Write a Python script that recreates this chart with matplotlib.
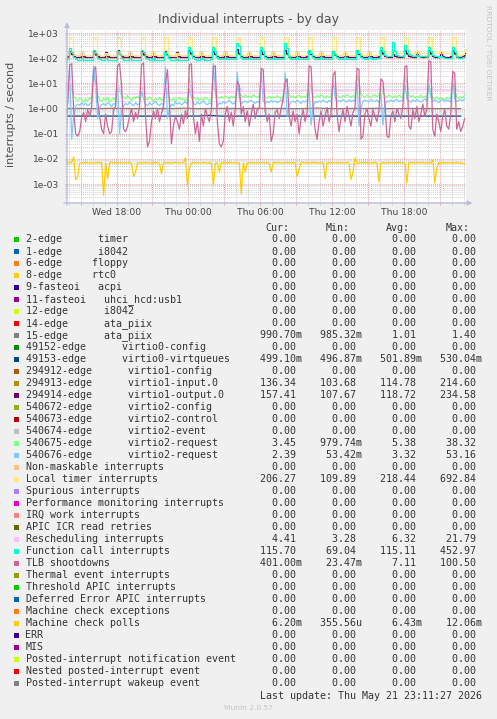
import pandas as pd
import matplotlib
matplotlib.use('Agg')
import matplotlib.pyplot as plt
import matplotlib.dates as mdates
from matplotlib.ticker import LogLocator, FuncFormatter, NullFormatter
from matplotlib.patches import Rectangle

W, H = 497, 719

# samples every 10 minutes, Wed 13:45 -> Thu 23:05
times = pd.date_range('2026-05-20 13:45', periods=201, freq='10min')
hourly = times[::6]
t_start = pd.Timestamp('2026-05-20 13:51:27')
t_end = pd.Timestamp('2026-05-21 23:11:27')

ata_15 = [1.00, 1.01, 0.99, 1.00, 1.02, 1.00, 0.99, 1.01, 1.00, 1.00, 1.03, 0.99, 1.00, 1.01, 1.00, 0.99, 1.02,
          1.00, 1.01, 0.99, 1.00, 1.04, 1.00, 0.99, 1.01, 1.00, 1.02, 0.99, 1.00, 1.01, 1.00, 0.99, 1.00, 0.99]
virtqueues = [0.50, 0.50, 0.501, 0.499, 0.50, 0.502, 0.50, 0.499, 0.50, 0.501, 0.50, 0.50, 0.53, 0.50, 0.499, 0.50,
              0.501, 0.50, 0.50, 0.502, 0.499, 0.50, 0.50, 0.501, 0.50, 0.499, 0.50, 0.502, 0.50, 0.50, 0.501, 0.50,
              0.499, 0.499]

v1_input = [110, 113,
    190, 142, 114, 110, 108, 109, 170, 115, 110, 108, 109, 111,
    185, 138, 113, 109, 107, 108, 165, 114, 109, 107, 108, 110,
    195, 143, 114, 110, 108, 109, 172, 116, 110, 108, 110, 111,
    188, 140, 113, 109, 107, 109, 168, 115, 109, 108, 109, 110,
    180, 135, 112, 109, 108, 108, 165, 114, 110, 108, 109, 111,
    200, 147, 115, 111, 109, 110, 172, 116, 111, 109, 110, 112,
    190, 142, 114, 110, 108, 109, 170, 115, 110, 109, 108, 111,
    214, 152, 116, 111, 109, 110, 166, 116, 111, 109, 110, 112,
    195, 144, 115, 111, 109, 110, 171, 116, 111, 109, 111, 112,
    205, 147, 116, 112, 110, 111, 173, 117, 112, 110, 111, 113,
    190, 142, 115, 111, 109, 110, 169, 116, 111, 110, 111, 112,
    185, 140, 114, 111, 109, 110, 168, 115, 111, 109, 110, 112,
    195, 144, 116, 112, 110, 111, 172, 117, 112, 110, 112, 113,
    200, 147, 117, 113, 111, 112, 180, 118, 113, 111, 112, 114,
    205, 150, 118, 113, 111, 112, 175, 118, 113, 111, 113, 114,
    210, 152, 117, 112, 110, 111, 170, 117, 112, 110, 111, 113,
    200, 147, 116, 112, 110, 114, 136]

v1_output = [114, 118,
    200, 150, 118, 114, 112, 113, 180, 120, 114, 112, 113, 115,
    195, 145, 117, 113, 111, 112, 175, 119, 113, 111, 112, 114,
    205, 150, 118, 114, 112, 113, 182, 121, 114, 112, 114, 115,
    198, 148, 117, 113, 111, 113, 178, 120, 113, 112, 113, 114,
    190, 142, 116, 113, 112, 112, 175, 119, 114, 112, 113, 115,
    210, 155, 119, 115, 113, 114, 182, 121, 115, 113, 114, 116,
    200, 150, 118, 114, 112, 113, 180, 120, 114, 113, 112, 115,
    230, 160, 120, 115, 113, 114, 176, 121, 115, 113, 114, 116,
    205, 152, 119, 115, 113, 114, 181, 121, 115, 113, 115, 116,
    215, 155, 120, 116, 114, 115, 183, 122, 116, 114, 115, 117,
    200, 150, 119, 115, 113, 114, 179, 121, 115, 114, 115, 116,
    195, 148, 118, 115, 113, 114, 178, 120, 115, 113, 114, 116,
    205, 152, 120, 116, 114, 115, 182, 122, 116, 114, 116, 117,
    210, 155, 121, 117, 115, 116, 190, 123, 117, 115, 116, 118,
    215, 158, 122, 117, 115, 116, 185, 123, 117, 115, 117, 118,
    220, 160, 121, 116, 114, 115, 180, 122, 116, 114, 115, 117,
    210, 155, 120, 116, 114, 118, 157]

v2_req_a = [2.2, 2.5,
    12, 6, 3.0, 2.5, 2.0, 2.6, 2.2, 1.8, 2.4, 2.0, 2.8, 2.3,
    20, 8, 3.5, 2.2, 1.9, 2.5, 2.1, 2.8, 1.8, 2.2, 2.6, 2.0,
    14, 5, 3.2, 2.8, 2.4, 3.3, 2.6, 2.1, 2.9, 2.5, 3.1, 2.4,
    4.5, 3.8, 2.6, 2.2, 2.9, 2.4, 1.9, 2.5, 2.2, 2.7, 2.1, 2.4,
    9, 4, 2.4, 2.1, 2.6, 1.9, 2.3, 2.8, 2.2, 2.5, 2.0, 2.6,
    15, 6, 2.8, 2.3, 2.6, 2.1, 2.5, 2.2, 2.8, 2.4, 2.0, 2.6,
    8, 5, 2.9, 2.5, 3.0, 2.6, 3.2, 2.7, 2.4, 3.1, 2.6, 3.0,
    6, 4, 3.3, 2.8, 3.4, 2.9, 3.1, 2.7, 3.5, 3.0, 2.8, 3.2,
    9, 5, 3.0, 2.6, 3.1, 2.5, 2.9, 2.6, 3.3, 2.8, 2.5, 3.0,
    20, 9, 3.5, 2.8, 3.2, 2.6, 3.0, 3.4, 2.7, 3.1, 2.9, 3.3,
    11, 6, 3.1, 2.7, 3.3, 2.9, 3.5, 3.0, 2.6, 3.2, 2.8, 3.0,
    10, 7, 3.4, 3.0, 2.7, 3.3, 2.9, 3.6, 3.1, 2.8, 3.2, 3.0,
    20, 12, 3.6, 3.1, 2.8, 3.4, 3.0, 2.7, 3.3, 3.5, 2.9, 3.2,
    6, 4.5, 3.2, 2.8, 3.5, 3.0, 2.7, 3.2, 2.9, 3.4, 3.0, 2.6,
    22, 10, 3.5, 2.9, 3.3, 2.6, 3.0, 2.8, 3.4, 2.7, 3.1, 2.9,
    9, 5, 2.6, 2.4, 2.9, 2.2, 2.7, 2.5, 2.3, 2.8, 2.4, 2.6,
    15, 6, 2.8, 2.5, 3.0, 2.6, 3.45]

v2_req_b = [1.3, 1.6,
    40, 0.06, 0.5, 1.2, 1.5, 1.3, 1.7, 1.4, 1.6, 1.3, 1.5, 1.8,
    50, 8, 0.4, 1.1, 1.4, 1.6, 1.3, 1.7, 1.5, 1.2, 1.6, 1.4,
    11, 0.1, 0.8, 1.3, 1.6, 1.4, 1.8, 1.5, 1.3, 1.7, 1.4, 1.6,
    5, 2.5, 1.5, 1.3, 1.7, 1.4, 1.6, 1.9, 1.5, 1.3, 1.6, 1.4,
    45, 0.4, 1.0, 1.5, 1.3, 1.8, 1.5, 1.7, 1.4, 1.6, 1.9, 1.5,
    6, 3, 1.6, 1.4, 1.8, 1.5, 1.7, 2.0, 1.6, 1.4, 1.7, 1.5,
    60, 5, 1.2, 1.7, 1.5, 1.9, 1.6, 1.8, 2.1, 1.7, 1.5, 1.8,
    28, 3, 1.5, 1.8, 2.0, 1.7, 1.9, 2.2, 1.8, 1.6, 1.9, 1.7,
    30, 2, 1.6, 1.9, 1.7, 2.1, 1.8, 2.0, 1.7, 1.9, 2.2, 1.8,
    26, 0.5, 1.4, 1.8, 2.0, 1.7, 2.1, 1.9, 1.6, 2.0, 1.8, 2.1,
    6, 0.22, 1.2, 1.9, 1.7, 2.0, 1.8, 2.2, 1.9, 1.7, 2.1, 1.8,
    12, 3, 1.8, 2.1, 1.9, 2.3, 2.0, 1.8, 2.2, 1.9, 2.1, 2.0,
    21, 0.2, 1.0, 1.9, 2.2, 2.0, 1.8, 2.3, 2.0, 1.9, 2.2, 1.7,
    4, 0.22, 1.5, 2.0, 1.8, 2.2, 1.9, 2.1, 2.3, 1.9, 2.0, 2.2,
    10, 2.5, 2.0, 1.8, 2.2, 1.9, 2.3, 2.0, 1.8, 2.1, 2.4, 2.0,
    8, 3, 1.9, 2.2, 2.0, 1.7, 2.1, 2.3, 1.9, 2.2, 2.0, 1.8,
    15, 2.5, 1.9, 2.1, 2.3, 2.0, 2.39]

local_timer = [128, 140,
    650, 690, 150, 132, 128, 131, 172, 134, 129, 127, 130, 128,
    640, 680, 148, 131, 127, 130, 168, 133, 128, 126, 129, 131,
    660, 690, 152, 133, 129, 128, 175, 132, 130, 128, 127, 130,
    650, 680, 149, 130, 128, 131, 170, 135, 129, 127, 130, 129,
    630, 670, 147, 132, 129, 127, 168, 131, 128, 130, 128, 131,
    660, 690, 153, 131, 128, 130, 173, 134, 130, 127, 129, 128,
    640, 685, 150, 133, 130, 128, 171, 132, 129, 131, 128, 130,
    600, 650, 148, 132, 128, 130, 169, 135, 131, 128, 130, 129,
    650, 690, 151, 134, 130, 129, 172, 133, 130, 128, 131, 130,
    660, 680, 150, 133, 131, 129, 170, 136, 132, 130, 129, 131,
    640, 690, 152, 135, 132, 130, 174, 134, 131, 133, 130, 132,
    650, 670, 149, 134, 131, 133, 171, 136, 132, 130, 133, 131,
    660, 690, 155, 136, 133, 131, 175, 137, 134, 132, 135, 140,
    640, 680, 175, 160, 158, 162, 190, 163, 160, 158, 161, 159,
    650, 690, 178, 162, 160, 158, 192, 164, 161, 159, 162, 160,
    660, 692, 176, 161, 159, 163, 190, 162, 158, 160, 157, 150,
    640, 680, 160, 145, 140, 150, 206]

rescheduling = [3.7, 3.9,
    14, 8, 4.2, 3.8, 3.7, 3.6, 3.8, 3.7, 3.6, 3.7, 3.8, 3.7,
    13, 7, 4.0, 3.7, 3.6, 3.7, 3.8, 3.6, 3.7, 3.6, 3.8, 3.7,
    11, 6, 4.1, 3.8, 3.7, 3.8, 3.9, 3.7, 3.8, 3.7, 3.9, 3.8,
    8, 5, 4.0, 3.9, 3.8, 3.9, 4.0, 3.8, 3.9, 4.0, 3.9, 3.8,
    10, 6, 4.4, 4.1, 4.0, 4.2, 4.1, 4.3, 4.2, 4.1, 4.3, 4.2,
    12, 7, 4.6, 4.3, 4.2, 4.4, 4.3, 4.2, 4.4, 4.3, 4.5, 4.4,
    9, 6, 4.7, 4.5, 4.4, 4.6, 4.5, 4.7, 4.6, 4.5, 4.7, 4.6,
    12, 8, 5.0, 4.8, 4.7, 4.9, 4.8, 4.7, 4.9, 4.8, 5.0, 4.9,
    10, 6, 5.1, 4.9, 4.8, 5.0, 4.9, 5.1, 5.0, 4.9, 5.1, 5.0,
    13, 7, 5.3, 5.1, 5.0, 5.2, 5.1, 5.0, 5.2, 5.3, 5.1, 5.2,
    11, 7, 5.4, 5.2, 5.1, 5.3, 5.2, 5.4, 5.3, 5.2, 5.4, 5.3,
    12, 8, 5.5, 5.3, 5.2, 5.4, 5.3, 5.2, 5.4, 5.5, 5.3, 5.4,
    14, 8, 5.6, 5.4, 5.3, 5.5, 5.4, 5.6, 5.5, 5.4, 5.6, 5.5,
    9, 6, 5.7, 5.5, 5.4, 5.6, 5.5, 5.4, 5.6, 5.7, 5.5, 5.6,
    16, 9, 5.8, 5.6, 5.5, 5.7, 5.6, 5.5, 5.7, 5.6, 5.8, 5.7,
    21, 10, 5.6, 5.4, 5.3, 5.5, 5.4, 5.3, 5.5, 5.4, 5.2, 5.3,
    14, 8, 5.2, 5.0, 4.8, 4.6, 4.41]

function_call = [86, 92,
    250, 180, 108, 90, 86, 84, 100, 88, 85, 87, 84, 86,
    210, 160, 105, 89, 85, 87, 98, 86, 84, 86, 85, 87,
    200, 150, 104, 88, 86, 85, 99, 87, 85, 84, 86, 88,
    210, 170, 106, 90, 87, 85, 101, 88, 86, 85, 87, 86,
    180, 140, 103, 88, 86, 87, 97, 86, 85, 87, 86, 88,
    270, 190, 110, 92, 88, 86, 102, 89, 87, 88, 86, 89,
    270, 200, 112, 93, 90, 89, 104, 92, 90, 89, 91, 90,
    400, 300, 115, 95, 91, 90, 105, 93, 91, 92, 90, 92,
    270, 200, 112, 95, 92, 91, 106, 94, 92, 91, 93, 92,
    400, 250, 118, 96, 93, 92, 107, 95, 93, 94, 92, 94,
    210, 160, 110, 96, 94, 93, 108, 96, 94, 93, 95, 94,
    190, 150, 108, 97, 95, 94, 109, 97, 95, 96, 94, 96,
    210, 160, 112, 98, 96, 95, 110, 98, 97, 96, 98, 100,
    280, 200, 140, 125, 122, 124, 450, 200, 128, 124, 126, 125,
    320, 220, 145, 128, 124, 126, 140, 127, 125, 124, 127, 126,
    270, 190, 138, 125, 120, 116, 118, 110, 106, 104, 103, 102,
    270, 190, 120, 106, 104, 108, 115.7]

tlb = [0.03, 2.0,
    55, 60, 0.8, 0.1, 0.08, 0.12, 0.45, 0.7, 0.3, 0.9, 0.5, 1.1,
    35, 45, 2.0, 0.5, 0.15, 0.1, 0.6, 0.2, 0.1, 0.12, 0.9, 1.2,
    50, 60, 8, 0.15, 0.12, 0.2, 0.5, 1.0, 0.3, 0.7, 0.4, 1.2,
    55, 65, 0.5, 0.03, 0.05, 0.3, 0.8, 0.4, 1.0, 0.3, 0.6, 1.3,
    10, 35, 1.5, 0.04, 0.2, 0.5, 0.3, 0.15, 0.6, 0.25, 0.8, 0.4,
    55, 60, 0.5, 0.1, 0.3, 0.05, 0.6, 0.2, 1.0, 0.5, 0.3, 0.9,
    45, 50, 0.3, 0.04, 0.03, 0.05, 0.6, 1.2, 0.3, 0.7, 0.2, 1.0,
    12, 8, 0.6, 1.2, 0.3, 0.8, 0.2, 0.6, 1.5, 0.4, 0.9, 1.0,
    40, 35, 0.8, 0.3, 0.6, 0.05, 0.1, 0.7, 0.9, 0.4, 1.0, 2.5,
    12, 15, 0.5, 0.2, 0.8, 0.3, 0.6, 0.1, 0.4, 0.9, 0.3, 0.7,
    50, 45, 1.0, 0.15, 0.06, 0.3, 0.8, 0.2, 0.5, 1.1, 0.3, 0.6,
    20, 30, 0.6, 0.12, 0.4, 0.9, 0.3, 1.2, 0.5, 0.2, 0.7, 1.0,
    40, 35, 0.06, 0.08, 0.6, 1.0, 0.4, 0.2, 0.9, 0.5, 0.3, 0.8,
    15, 12, 1.5, 0.08, 0.07, 0.5, 0.8, 0.3, 1.0, 0.6, 0.4, 1.2,
    45, 50, 0.2, 0.15, 0.9, 0.4, 1.2, 0.3, 0.6, 1.5, 0.5, 0.9,
    80, 70, 0.15, 0.08, 0.6, 0.3, 0.12, 0.5, 0.9, 0.2, 0.15, 0.6,
    30, 25, 0.15, 0.3, 0.12, 0.2, 0.4]

mc_polls = [0.0068, 0.0071,
    0.0069, 0.0072, 0.012, 0.0015, 0.002, 0.0066, 0.0070, 0.0068, 0.0073, 0.0069, 0.0067, 0.0071,
    0.0070, 0.0068, 0.0072, 0.0069, 0.0071, 0.00036, 0.0068, 0.0016, 0.0070, 0.0073, 0.0069, 0.0071,
    0.0068, 0.0072, 0.0070, 0.0067, 0.0071, 0.0069, 0.0073, 0.0068, 0.002, 0.003, 0.0070, 0.0069,
    0.0071, 0.0068, 0.0072, 0.0069, 0.0070, 0.0067, 0.0071, 0.0073, 0.0069, 0.0068, 0.0025, 0.0070,
    0.0072, 0.0069, 0.0071, 0.0068, 0.0070, 0.0073, 0.0069, 0.0071, 0.0068, 0.0070, 0.011, 0.0009,
    0.004, 0.0069, 0.0072, 0.0070, 0.0068, 0.0071, 0.0069, 0.0073, 0.0070, 0.0068, 0.0071, 0.0069,
    0.0009, 0.0068, 0.0070, 0.003, 0.0072, 0.0069, 0.0071, 0.0068, 0.0073, 0.0070, 0.0069, 0.0071,
    0.0068, 0.0070, 0.0004, 0.0069, 0.003, 0.0071, 0.0068, 0.0072, 0.0070, 0.0069, 0.0071, 0.0068,
    0.0070, 0.0072, 0.0069, 0.0071, 0.0068, 0.003, 0.0070, 0.0073, 0.0069, 0.0071, 0.0068, 0.0070,
    0.0069, 0.0072, 0.0070, 0.0068, 0.0071, 0.0069, 0.002, 0.004, 0.0070, 0.0072, 0.0069, 0.0071,
    0.0068, 0.0070, 0.0073, 0.0069, 0.0071, 0.0068, 0.0070, 0.0072, 0.0016, 0.0069, 0.0071, 0.0068,
    0.0070, 0.0069, 0.0072, 0.0068, 0.0071, 0.0070, 0.0069, 0.0073, 0.0068, 0.0015, 0.003, 0.011,
    0.0070, 0.0068, 0.0071, 0.0069, 0.0072, 0.0070, 0.0068, 0.0071, 0.0069, 0.0073, 0.0070, 0.0012,
    0.0069, 0.0071, 0.0068, 0.0070, 0.0072, 0.0069, 0.0071, 0.0068, 0.0070, 0.0073, 0.0069, 0.0071,
    0.0068, 0.0011, 0.0070, 0.0069, 0.0072, 0.0068, 0.0071, 0.0070, 0.0069, 0.0073, 0.0068, 0.0070,
    0.0071, 0.0069, 0.009, 0.0011, 0.004, 0.0070, 0.0068, 0.0072, 0.0069, 0.0071, 0.0070, 0.0068,
    0.0071, 0.0069, 0.0072, 0.0068, 0.0070, 0.0066, 0.0062]

# legend table (munin order)
legend_labels = [
    '2-edge      timer', '1-edge      i8042', '6-edge     floppy', '8-edge     rtc0', '9-fasteoi   acpi',
    '11-fasteoi   uhci_hcd:usb1', '12-edge      i8042', '14-edge      ata_piix', '15-edge      ata_piix',
    '49152-edge      virtio0-config', '49153-edge      virtio0-virtqueues', '294912-edge      virtio1-config',
    '294913-edge      virtio1-input.0', '294914-edge      virtio1-output.0', '540672-edge      virtio2-config',
    '540673-edge      virtio2-control', '540674-edge      virtio2-event', '540675-edge      virtio2-request',
    '540676-edge      virtio2-request', 'Non-maskable interrupts', 'Local timer interrupts',
    'Spurious interrupts', 'Performance monitoring interrupts', 'IRQ work interrupts', 'APIC ICR read retries',
    'Rescheduling interrupts', 'Function call interrupts', 'TLB shootdowns', 'Thermal event interrupts',
    'Threshold APIC interrupts', 'Deferred Error APIC interrupts', 'Machine check exceptions',
    'Machine check polls', 'ERR', 'MIS', 'Posted-interrupt notification event', 'Nested posted-interrupt event',
    'Posted-interrupt wakeup event']
legend_colors = [
    '#00CC00', '#0066B3', '#FF8000', '#FFCC00', '#330099', '#990099', '#CCFF00', '#FF0000', '#808080',
    '#008F00', '#00487D', '#B35A00', '#B38F00', '#6B006B', '#8FB300', '#B30000', '#BEBEBE', '#80FF80',
    '#80C9FF', '#FFC080', '#FFE680', '#AA80FF', '#EE00CC', '#FF8080', '#666600', '#FFBFFF', '#00FFCC',
    '#CC6699', '#999900', '#00CC00', '#0066B3', '#FF8000', '#FFCC00', '#330099', '#990099', '#CCFF00',
    '#FF0000', '#808080']
cur = [0, 0, 0, 0, 0, 0, 0, 0, 0.99070, 0, 0.49910, 0, 136.34, 157.41, 0, 0, 0, 3.45, 2.39, 0, 206.27, 0, 0,
       0, 0, 4.41, 115.70, 0.40100, 0, 0, 0, 0, 0.00620, 0, 0, 0, 0, 0]
vmin = [0, 0, 0, 0, 0, 0, 0, 0, 0.98532, 0, 0.49687, 0, 103.68, 107.67, 0, 0, 0, 0.97974, 0.05342, 0, 109.89,
        0, 0, 0, 0, 3.28, 69.04, 0.02347, 0, 0, 0, 0, 0.00035556, 0, 0, 0, 0, 0]
vavg = [0, 0, 0, 0, 0, 0, 0, 0, 1.01, 0, 0.50189, 0, 114.78, 118.72, 0, 0, 0, 5.38, 3.32, 0, 218.44, 0, 0, 0,
        0, 6.32, 115.11, 7.11, 0, 0, 0, 0, 0.00643, 0, 0, 0, 0, 0]
vmax = [0, 0, 0, 0, 0, 0, 0, 0, 1.40, 0, 0.53004, 0, 214.60, 234.58, 0, 0, 0, 38.32, 53.16, 0, 692.84, 0, 0, 0,
        0, 21.79, 452.97, 100.50, 0, 0, 0, 0, 0.01206, 0, 0, 0, 0, 0]
columns = ['Cur:', 'Min:', 'Avg:', 'Max:']

for s in (v1_input, v1_output, v2_req_a, v2_req_b, local_timer, rescheduling, function_call, tlb, mc_polls):
    assert len(s) == len(times), len(s)

fig = plt.figure(figsize=(W / 100, H / 100), dpi=100, facecolor='#F0F0F0')
ax = fig.add_axes([67 / W, 1 - 203 / H, 399 / W, 173 / H])
ax.set_facecolor('white')

# draw order as munin does, later series on top
ax.plot(hourly, ata_15, color='#808080', lw=0.9)
ax.plot(hourly, virtqueues, color='#00487D', lw=0.9)
ax.plot(times, v1_input, color='#B38F00', lw=0.9, drawstyle='steps-mid')
ax.plot(times, v1_output, color='#6B006B', lw=0.9, drawstyle='steps-mid')
ax.plot(times, v2_req_a, color='#80FF80', lw=0.9)
ax.plot(times, v2_req_b, color='#80C9FF', lw=0.9)
ax.plot(times, local_timer, color='#FFE680', lw=0.9, drawstyle='steps-mid')
ax.plot(times, rescheduling, color='#FFBFFF', lw=0.9)
ax.plot(times, function_call, color='#00FFCC', lw=0.9, drawstyle='steps-mid')
ax.plot(times, tlb, color='#CC6699', lw=0.9)
ax.plot(times, mc_polls, color='#FFCC00', lw=0.9)

ax.set_yscale('log')
ax.set_ylim(10 ** -3.755, 10 ** 3.12)
ax.set_xlim(t_start, t_end)

ax.yaxis.set_major_locator(LogLocator(base=10, numticks=20))
ax.yaxis.set_minor_locator(LogLocator(base=10, subs=range(2, 10), numticks=20))
ax.yaxis.set_major_formatter(FuncFormatter(lambda v, p: f'{v:.0e}'))
ax.yaxis.set_minor_formatter(NullFormatter())

ax.xaxis.set_major_locator(mdates.HourLocator(byhour=range(0, 24, 3)))
ax.xaxis.set_minor_locator(mdates.HourLocator())
ax.xaxis.set_major_formatter(FuncFormatter(
    lambda v, p: mdates.num2date(v).strftime('%a %H:%M') if mdates.num2date(v).hour % 6 == 0 else ''))

dots = (0, (1, 1))
ax.grid(which='minor', color='#D2D2D2', linestyle=dots, lw=0.7)
ax.grid(which='major', color='#EBA3A3', linestyle=dots, lw=0.7)
ax.set_axisbelow(True)

ax.tick_params(which='major', length=1.5, width=0.7, color='#E8A0A0', labelsize=6.6, labelcolor='#444444')
ax.tick_params(which='minor', length=1.2, width=0.7, color='#CCCCCC')
ax.tick_params(axis='y', pad=4.2)
ax.tick_params(axis='x', pad=1.8)
for sp in ax.spines.values():
    sp.set_visible(False)

arrow = dict(arrowstyle='-|>', color='#B8BCDC', lw=0.9, mutation_scale=7, shrinkA=0, shrinkB=0)
ax.annotate('', xy=(1.016, 0), xytext=(-0.008, 0), xycoords='axes fraction', arrowprops=arrow,
            annotation_clip=False)
ax.annotate('', xy=(0, 1.045), xytext=(0, -0.012), xycoords='axes fraction', arrowprops=arrow,
            annotation_clip=False)


def px(x, y):
    return x / W, 1 - y / H


def si(v):
    if v == 0:
        return '0.00 '
    for pre, scale in (('', 1.0), ('m', 1e-3), ('u', 1e-6)):
        if v >= scale:
            return f'{v / scale:.2f}{pre or " "}'


fig.text(*px(248.5, 19), 'Individual interrupts - by day', ha='center', va='center', fontsize=9,
         color='#505050')
fig.text(*px(11, 114), 'interrupts / second', rotation=90, ha='center', va='center', fontsize=8,
         color='#505050')
fig.text(*px(488, 5), 'RRDTOOL / TOBI OETIKER', rotation=270, ha='center', va='top', fontsize=5.4,
         color='#C4C4C4')

# monospace table: 6 px per character, starting at x = 25.5
x0, cw = 25.5, 6.0
mono = dict(family='DejaVu Sans Mono', fontsize=7.2, color='#333333', va='center')
for c, head in enumerate(columns):
    fig.text(*px(x0 + cw * (44 + 10 * c), 227.7), head, ha='right', **mono)
for i, name in enumerate(legend_labels):
    y = 239.5 + 12 * i
    fig.add_artist(Rectangle(px(14, y + 2.7), 5.4 / W, 5.4 / H, transform=fig.transFigure,
                             facecolor=legend_colors[i], lw=0))
    fig.text(*px(x0, y), name, ha='left', **mono)
    vals = f'{si(cur[i]):>8}{si(vmin[i]):>10}{si(vavg[i]):>10}{si(vmax[i]):>10}'.lstrip()
    fig.text(*px(x0 + cw * (76 - len(vals)), y), vals, ha='left', **mono)
fig.text(*px(x0 + cw * 76, 695.7), 'Last update: Thu May 21 23:11:27 2026', ha='right', **mono)
fig.text(*px(248, 708), 'Munin 2.0.57', ha='center', va='center', fontsize=5.4, color='#C4C4C4')

fig.savefig('out.png', dpi=100, facecolor=fig.get_facecolor())
